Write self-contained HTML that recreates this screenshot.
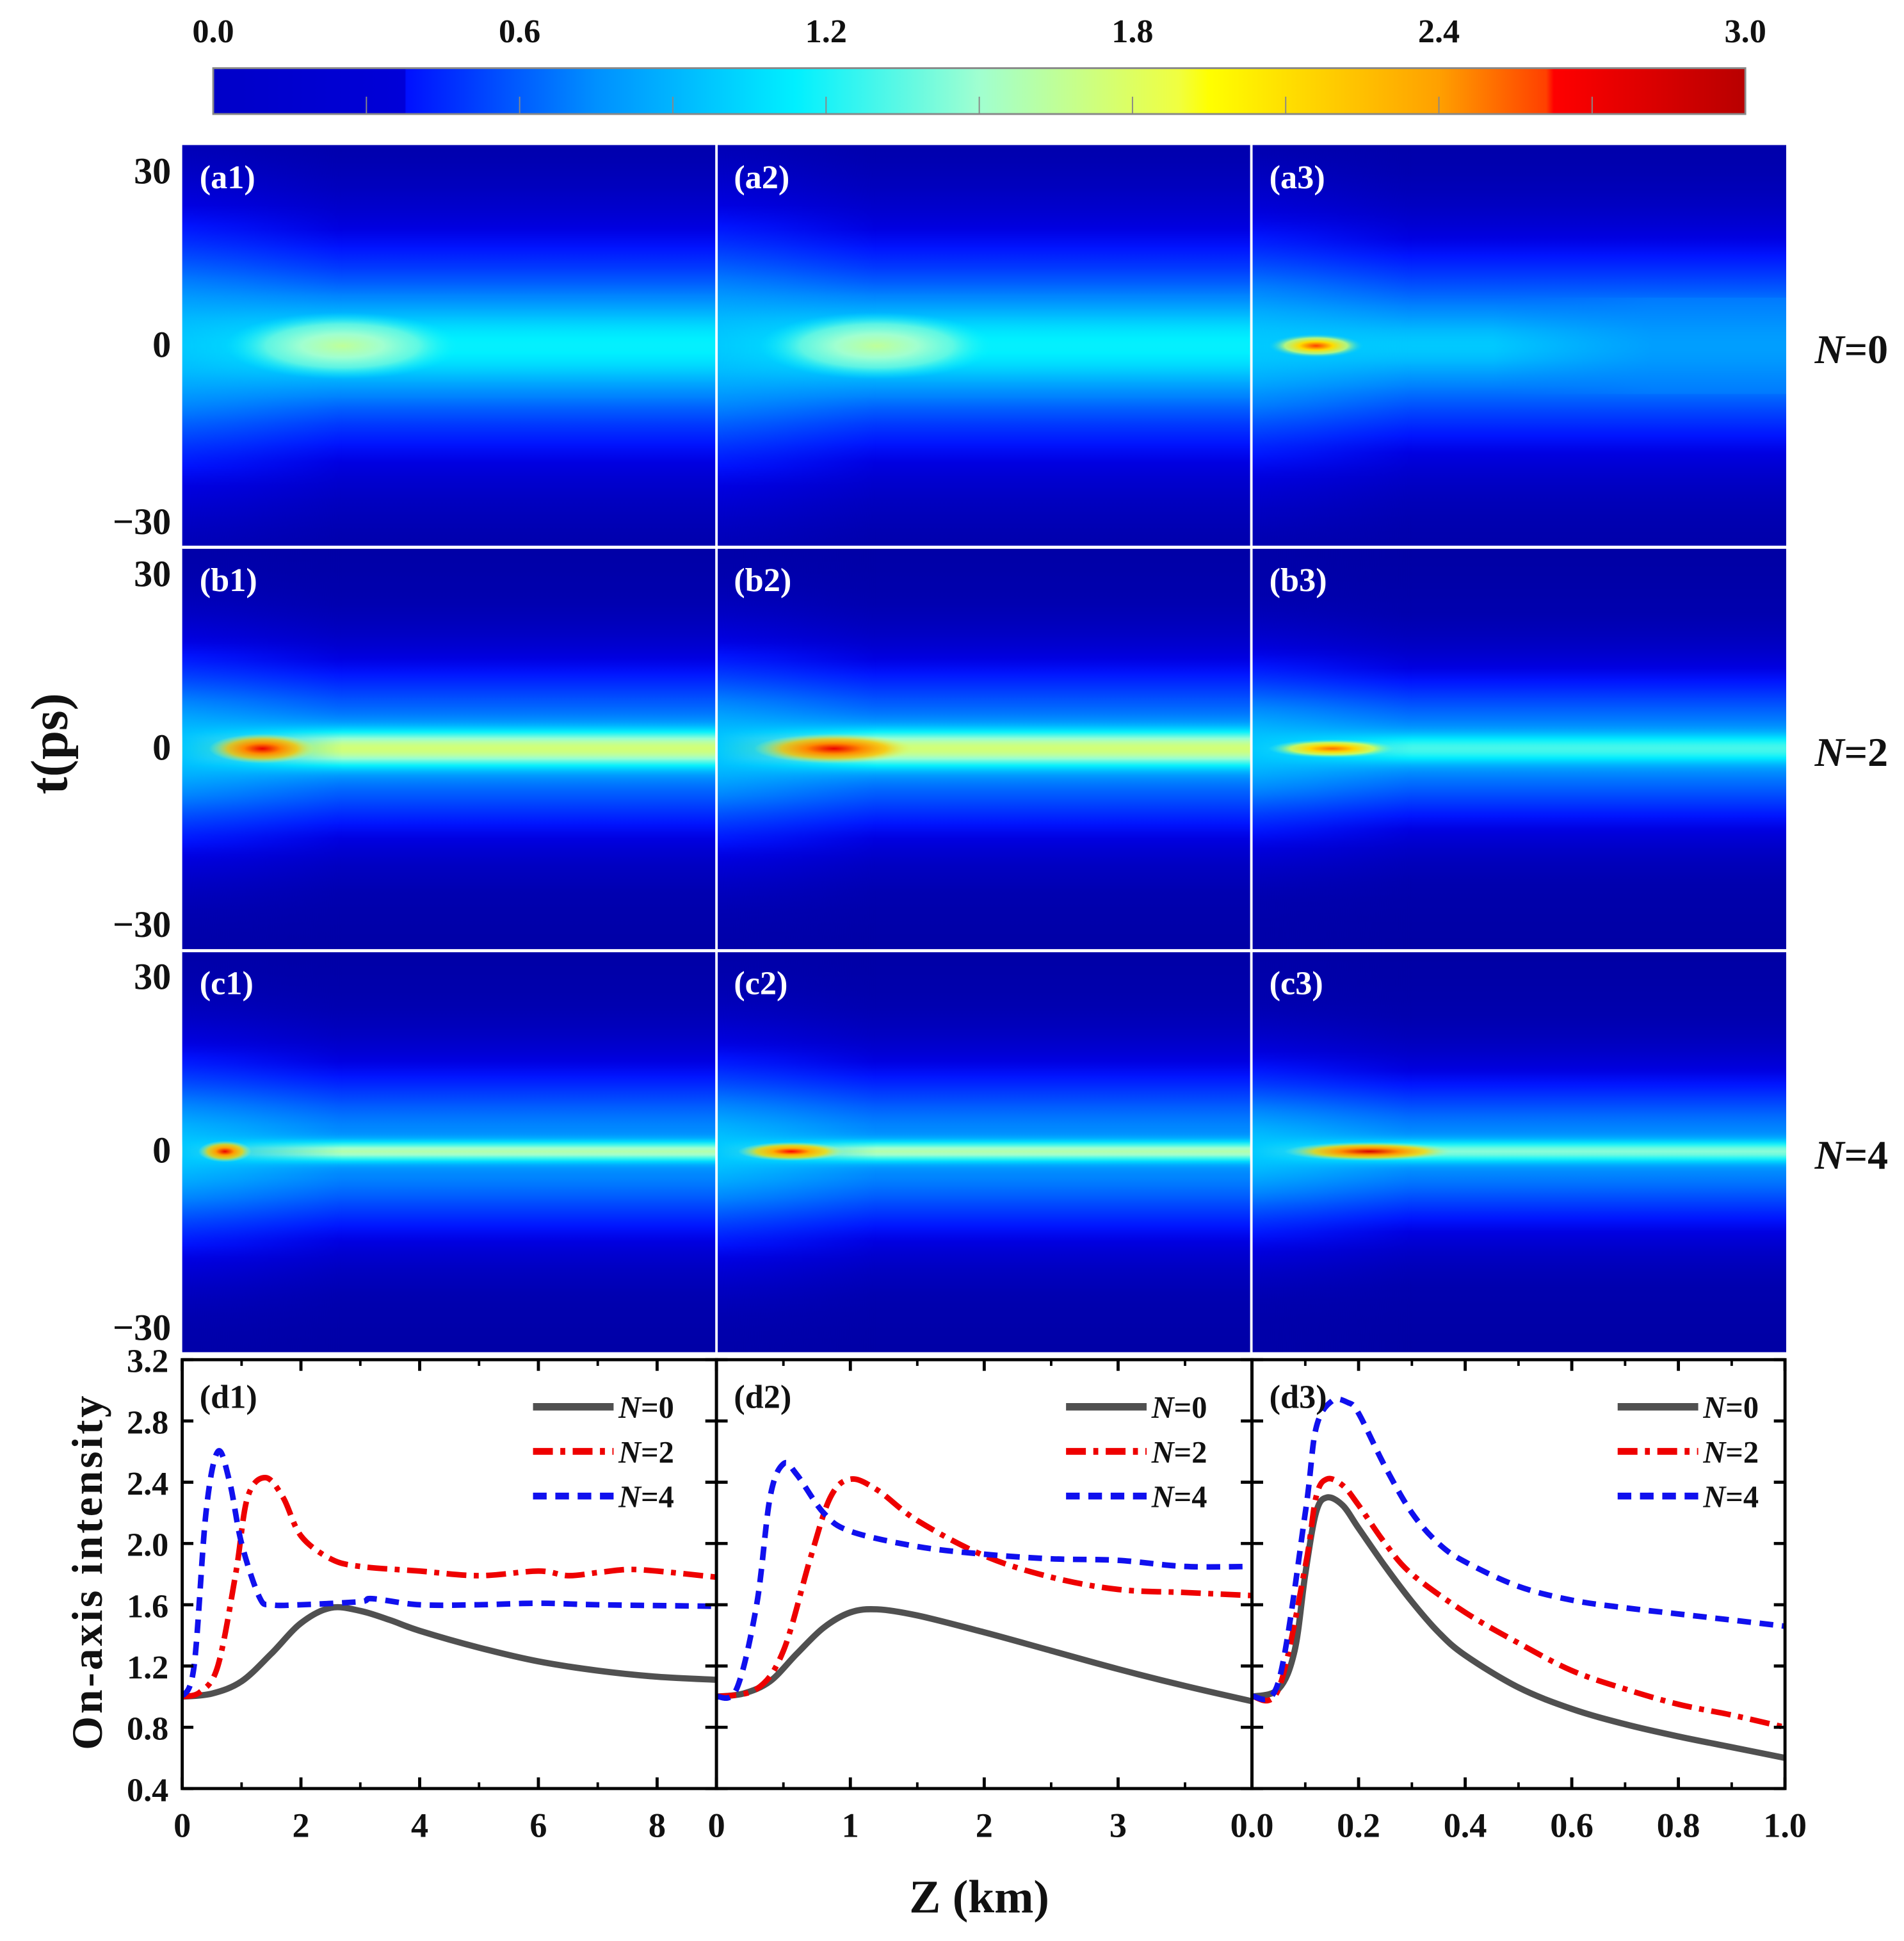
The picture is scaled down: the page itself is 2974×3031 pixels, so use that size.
<!DOCTYPE html>
<html><head><meta charset="utf-8">
<style>
html,body{margin:0;padding:0;background:#fff;}
svg{display:block;}
text{font-family:"Liberation Serif",serif;font-weight:bold;}
</style></head>
<body>
<svg id="fig" width="2974" height="3031" viewBox="0 0 1536 1566" preserveAspectRatio="none" xmlns="http://www.w3.org/2000/svg">
<defs id="defs">
<linearGradient id="cbar" x1="0" x2="1" y1="0" y2="0">
<stop offset="0" stop-color="#0000c8"/><stop offset="0.125" stop-color="#0000d8"/>
<stop offset="0.126" stop-color="#0010ff"/><stop offset="0.25" stop-color="#0090ff"/>
<stop offset="0.38" stop-color="#00f0ff"/><stop offset="0.5" stop-color="#a0ffd0"/>
<stop offset="0.63" stop-color="#f0ff40"/><stop offset="0.65" stop-color="#ffff00"/>
<stop offset="0.8" stop-color="#ffa000"/><stop offset="0.87" stop-color="#ff4000"/>
<stop offset="0.875" stop-color="#ff0000"/><stop offset="1" stop-color="#b80000"/>
</linearGradient>
</defs>
<g id="root"></g>
</svg>
<script>
// ---------- data ----------
const cbTicks = [0.0, 0.6, 1.2, 1.8, 2.4, 3.0];
const rowLabels = ['N=0','N=2','N=4'];
const panelLetters = ['a','b','c'];
// heatmap features per row/col: glow half-width (ps), core half-width (ps), core level
const glowHalf = [[13,13,12],[10,10,9],[10,10,9]];
const coreHalf = [[6,6,4.5],[2.6,2.6,2.2],[1.4,1.4,1.5]];
const coreLevel = [[1.15,1.15,1.0],[1.75,1.75,1.3],[1.6,1.6,1.45]];
// hotspots: [u (0..1), u half, t half (ps), level]
const hotU = [[0.3,0.3,0.12],[0.15,0.22,0.15],[0.08,0.14,0.22]];
const hotUHalf = [[0.22,0.22,0.09],[0.1,0.15,0.12],[0.05,0.1,0.16]];
const hotTHalf = [[5,5,1.8],[2.2,2.2,1.4],[1.6,1.4,1.4]];
const hotLevel = [[1.65,1.65,2.6],[2.75,2.75,2.5],[2.75,2.65,2.85]];

const d1x=[0,0.5,1,1.5,2,2.5,3,3.5,4,5,6,7,8,9];
const d1n0=[1.0,1.02,1.1,1.28,1.48,1.58,1.56,1.5,1.43,1.32,1.23,1.17,1.13,1.11];
const d1x2=[0,0.3,0.6,0.9,1.1,1.4,1.7,2.0,2.5,3,4,5,6,6.5,7,7.5,8,9];
const d1n2=[1.0,1.03,1.2,1.8,2.3,2.43,2.3,2.05,1.9,1.85,1.82,1.79,1.82,1.79,1.81,1.83,1.82,1.78];
const d1x4=[0,0.2,0.4,0.6,0.8,1.0,1.3,1.5,2,3,3.2,4,5,6,7,9];
const d1n4=[1.0,1.2,2.2,2.6,2.4,2.0,1.65,1.6,1.6,1.62,1.64,1.6,1.6,1.61,1.6,1.59];
const d2x=[0,0.2,0.4,0.6,0.8,1.0,1.2,1.5,2,2.5,3,3.5,4];
const d2n0=[1.0,1.02,1.1,1.28,1.45,1.55,1.57,1.53,1.42,1.3,1.18,1.07,0.97];
const d2x2=[0,0.3,0.5,0.7,0.85,1.0,1.2,1.5,2,2.5,3,3.5,4];
const d2n2=[1.0,1.05,1.3,1.9,2.3,2.42,2.35,2.15,1.92,1.78,1.7,1.68,1.66];
const d2x4=[0,0.15,0.3,0.4,0.5,0.6,0.8,1.0,1.5,2,2.5,3,3.5,4];
const d2n4=[1.0,1.05,1.6,2.3,2.52,2.45,2.2,2.08,1.98,1.93,1.9,1.89,1.85,1.85];
const d3x=[0,0.05,0.08,0.1,0.12,0.14,0.17,0.2,0.25,0.3,0.35,0.4,0.5,0.6,0.7,0.8,0.9,1.0];
const d3n0=[1.0,1.05,1.3,1.8,2.2,2.3,2.25,2.1,1.85,1.62,1.42,1.27,1.06,0.92,0.82,0.74,0.67,0.6];
const d3x2=[0,0.05,0.1,0.12,0.14,0.17,0.2,0.25,0.3,0.4,0.5,0.6,0.7,0.8,0.9,1.0];
const d3n2=[1.0,1.05,1.85,2.3,2.42,2.38,2.25,2.0,1.8,1.55,1.35,1.17,1.05,0.95,0.88,0.8];
const d3x4=[0,0.05,0.1,0.12,0.15,0.18,0.2,0.25,0.3,0.35,0.4,0.5,0.6,0.7,0.8,0.9,1.0];
const d3n4=[1.0,1.1,2.2,2.75,2.93,2.92,2.85,2.5,2.2,2.0,1.88,1.72,1.63,1.58,1.54,1.5,1.46];
const xMax=[9,4,1];
const xTicks=[[0,2,4,6,8],[0,1,2,3],[0,0.2,0.4,0.6,0.8,1.0]];
const xTickLabels=[['0','2','4','6','8'],['0','1','2','3'],['0.0','0.2','0.4','0.6','0.8','1.0']];
const yTicks=[0.4,0.8,1.2,1.6,2.0,2.4,2.8,3.2];

// ---------- helpers ----------
const NS='http://www.w3.org/2000/svg';
const root=document.getElementById('root');
const defs=document.getElementById('defs');
function mk(tag,attrs,parent){const e=document.createElementNS(NS,tag);for(const k in attrs)e.setAttribute(k,attrs[k]);(parent||root).appendChild(e);return e;}
function txt(s,attrs,parent){const e=mk('text',attrs,parent);e.textContent=s;return e;}
function jet(v){
  const st=[[0,[0,0,140]],[0.2,[0,0,175]],[0.37,[0,0,225]],[0.45,[0,20,255]],[0.75,[0,130,255]],[1.14,[0,240,255]],[1.5,[160,255,208]],[1.9,[240,255,64]],[1.95,[255,255,0]],[2.4,[255,160,0]],[2.6,[255,64,0]],[2.65,[255,0,0]],[3,[184,0,0]]];
  v=Math.max(0,Math.min(3,v));
  for(let i=1;i<st.length;i++){if(v<=st[i][0]){const a=st[i-1],b=st[i];const f=(v-a[0])/(b[0]-a[0]||1);const c=a[1].map((x,j)=>Math.round(x+(b[1][j]-x)*f));return `rgb(${c})`;}}
  return 'rgb(184,0,0)';
}

// ---------- colorbar ----------
const CB={x:172,y:55,w:1236,h:37};
const cbG=mk('g',{});


mk('rect',{x:CB.x,y:CB.y,width:CB.w,height:CB.h,fill:'url(#cbar)',stroke:'#888','stroke-width':1.5},cbG);
for(let i=1;i<10;i++){const x=CB.x+CB.w*i/10;mk('line',{x1:x,x2:x,y1:CB.y+23,y2:CB.y+CB.h,stroke:'#888','stroke-width':1},cbG);}
cbTicks.forEach(v=>{const t=txt(v.toFixed(1),{x:CB.x+CB.w*v/3,y:34,'font-size':27,'text-anchor':'middle',fill:'#111'},cbG);
 
 });

// ---------- heatmaps ----------
const colX=[147,578,1010], PW=431, rowY=[117,442,767], PH=324;
for(let r=0;r<3;r++)for(let c=0;c<3;c++){
  const x0=colX[c],y0=rowY[r];
  const cy=y0+PH/2, ps=PH/60;
  const id=''+r+c;
  const G=glowHalf[r][c], C=coreHalf[r][c], L=coreLevel[r][c];
  // vertical profile gradient (right part)
  const vg=mk('linearGradient',{id:'vg'+id,x1:0,x2:0,y1:0,y2:1},defs);
  for(let i=0;i<=120;i++){const t=30-i*0.5;
    const lv=0.12+0.2*Math.exp(-Math.pow(t/(G*2.2),2))+0.5*Math.exp(-Math.pow(t/(G*1.1),2))+(L-0.82)*Math.exp(-Math.pow(t/C,2));
    mk('stop',{offset:i/120,'stop-color':jet(lv)},vg);}
  // left region (z near 0): wide, medium profile
  const lg=mk('linearGradient',{id:'lg'+id,x1:0,x2:0,y1:0,y2:1},defs);
  for(let i=0;i<=60;i++){const t=30-i;
    const lv=0.15+0.6*Math.exp(-Math.pow(t/(G*1.6),2))+0.25*Math.exp(-Math.pow(t/(G*0.8),2));
    mk('stop',{offset:i/60,'stop-color':jet(lv)},lg);}
  const mg=mk('linearGradient',{id:'mg'+id,x1:0,x2:1,y1:0,y2:0},defs);
  mk('stop',{offset:0,'stop-color':'#fff','stop-opacity':1},mg);
  mk('stop',{offset:0.35,'stop-color':'#fff','stop-opacity':0.7},mg);
  mk('stop',{offset:1,'stop-color':'#fff','stop-opacity':0},mg);
  const mask=mk('mask',{id:'mk'+id,maskContentUnits:'userSpaceOnUse'},defs);
  mk('rect',{x:x0,y:y0,width:PW*0.3,height:PH,fill:'url(#mg'+id+')'},mask);
  // hotspot radial
  const H=hotLevel[r][c];
  const rg=mk('radialGradient',{id:'rg'+id,cx:0.5,cy:0.5,r:0.5},defs);
  [[0,H,1],[0.35,H-(H-L)*0.3,1],[0.65,(H+L)/2,0.8],[1,L,0]].forEach(s=>mk('stop',{offset:s[0],'stop-color':jet(s[1]),'stop-opacity':s[2]},rg));

  const g=mk('g',{});
  
  
  const cp=mk('clipPath',{id:'clip'+id},g);mk('rect',{x:x0,y:y0,width:PW,height:PH},cp);
  const inner=mk('g',{'clip-path':`url(#clip${id})`},g);
  mk('rect',{x:x0,y:y0,width:PW,height:PH,fill:'url(#vg'+id+')'},inner);
  mk('rect',{x:x0,y:y0,width:PW*0.3,height:PH,fill:'url(#lg'+id+')',mask:'url(#mk'+id+')'},inner);
  if(r===0&&c===2){ // core fades to right
    const fg=mk('linearGradient',{id:'fg'+id,x1:0,x2:1,y1:0,y2:0},defs);
    mk('stop',{offset:0,'stop-color':jet(0.7),'stop-opacity':0},fg);
    mk('stop',{offset:0.45,'stop-color':jet(0.7),'stop-opacity':0},fg);
    mk('stop',{offset:0.75,'stop-color':jet(0.75),'stop-opacity':0.6},fg);
    mk('stop',{offset:1,'stop-color':jet(0.75),'stop-opacity':0.6},fg);
    mk('rect',{x:x0,y:cy-C*1.6*ps,width:PW,height:C*3.2*ps,fill:'url(#fg'+id+')'},inner);
  }
  mk('ellipse',{cx:x0+hotU[r][c]*PW,cy:cy,rx:hotUHalf[r][c]*PW,ry:hotTHalf[r][c]*ps,fill:'url(#rg'+id+')'},inner);
  const lab=txt('('+panelLetters[r]+(c+1)+')',{x:x0+14,y:y0+35,'font-size':27,fill:'#fff'},g);
  
  
}
// white separators
const sep=mk('g',{});


[578,1009.5].forEach(x=>mk('line',{x1:x,x2:x,y1:117,y2:1092,stroke:'#fff','stroke-width':2},sep));
[441.5,767].forEach(y=>mk('line',{x1:147,x2:1441,y1:y,y2:y,stroke:'#fff','stroke-width':2.5},sep));
// heatmap y ticks and labels
for(let r=0;r<3;r++){
  const y0=rowY[r];
  [['30',y0+20],['0',y0+160],['\u221230',y0+303]].forEach(([s,y])=>{
    const t=txt(s,{x:138,y:y+11,'font-size':30,'text-anchor':'end',fill:'#111'});
    
    
  });
  const n=txt(rowLabels[r].slice(1),{x:1464,y:y0+176,'font-size':33,fill:'#111'});
  
  
  const ts=mk('tspan',{'font-style':'italic'});ts.textContent='N';n.insertBefore(ts,n.firstChild);
}
const tl=txt('t(ps)',{x:0,y:0,'font-size':42,'text-anchor':'middle',fill:'#111',transform:'translate(54,600) rotate(-90)'});



// ---------- line plots ----------
const PY0=1097, PY1=1443;
const yv=v=>PY0+(3.2-v)/(3.2-0.4)*(PY1-PY0);
const pX=[147,578,1010], pW=[431,432,430];
const series=[
 [[d1x,d1n0],[d1x2,d1n2],[d1x4,d1n4]],
 [[d2x,d2n0],[d2x2,d2n2],[d2x4,d2n4]],
 [[d3x,d3n0],[d3x2,d3n2],[d3x4,d3n4]]];
const styles=[{stroke:'#505050',w:5,dash:''},{stroke:'#ee0000',w:4.5,dash:'16 6 4 6'},{stroke:'#1010ee',w:4.5,dash:'11 7'}];
const names=['N=0','N=2','N=4'];
function smoothPath(pts){let d=`M${pts[0][0]},${pts[0][1]}`;for(let i=0;i<pts.length-1;i++){const p0=pts[i-1]||pts[i],p1=pts[i],p2=pts[i+1],p3=pts[i+2]||p2;const c1=[p1[0]+(p2[0]-p0[0])/6,p1[1]+(p2[1]-p0[1])/6],c2=[p2[0]-(p3[0]-p1[0])/6,p2[1]-(p3[1]-p1[1])/6];d+=` C${c1},${c2},${p2}`;}return d;}
for(let k=0;k<3;k++){
  const x0=pX[k],w=pW[k];
  const xs=v=>x0+v/xMax[k]*w;
  const g=mk('g',{});
  
  
  const cid='lc'+k;const cp=mk('clipPath',{id:cid},g);mk('rect',{x:x0,y:PY0,width:w,height:PY1-PY0},cp);
  const lg=mk('g',{'clip-path':`url(#${cid})`},g);
  series[k].forEach((s,i)=>{
    const pts=s[0].map((xv,j)=>[xs(xv),yv(s[1][j])]);
    const p=mk('path',{d:smoothPath(pts),fill:'none',stroke:styles[i].stroke,'stroke-width':styles[i].w,'stroke-dasharray':styles[i].dash,'stroke-linejoin':'round'},lg);
    
    
  });
  xTicks[k].forEach((t,i)=>{const x=xs(t);mk('line',{x1:x,x2:x,y1:PY0,y2:PY0+9,stroke:'#000','stroke-width':2.5},g);
    mk('line',{x1:x,x2:x,y1:PY1,y2:PY1-9,stroke:'#000','stroke-width':2.5},g);
    const half=(xTicks[k][1]-xTicks[k][0])/2;const xm=xs(t+half);
    if(t+half<xMax[k]){mk('line',{x1:xm,x2:xm,y1:PY0,y2:PY0+5,stroke:'#000','stroke-width':2},g);mk('line',{x1:xm,x2:xm,y1:PY1,y2:PY1-5,stroke:'#000','stroke-width':2},g);}
    const lb=txt(xTickLabels[k][i],{x:x,y:1482,'font-size':28,'text-anchor':'middle',fill:'#111'},g);
    
    
  });
  yTicks.forEach(t=>{const y=yv(t);mk('line',{x1:x0,x2:x0+9,y1:y,y2:y,stroke:'#000','stroke-width':2.5},g);mk('line',{x1:x0+w,x2:x0+w-9,y1:y,y2:y,stroke:'#000','stroke-width':2.5},g);});
  mk('rect',{x:x0,y:PY0,width:w,height:PY1-PY0,fill:'none',stroke:'#000','stroke-width':2.5},g);
  const pl=txt('(d'+(k+1)+')',{x:x0+14,y:1136,'font-size':27,fill:'#111'},g);
  
  
  const lx=[430,860,1305][k];
  const leg=mk('g',{},g);
  
  
  names.forEach((n,i)=>{const ly=1135+i*36;
    const le=mk('g',{},leg);
    
    
    mk('line',{x1:lx,x2:lx+65,y1:ly,y2:ly,stroke:styles[i].stroke,'stroke-width':styles[i].w+1,'stroke-dasharray':styles[i].dash},le);
    const t=txt('',{x:lx+69,y:ly+9,'font-size':25,fill:'#111'},le);
    const ts=mk('tspan',{'font-style':'italic'},t);ts.textContent='N';
    const ts2=mk('tspan',{},t);ts2.textContent=n.slice(1);
  });
}
yTicks.forEach(t=>{const lb=txt(t.toFixed(1),{x:136,y:yv(t)+10,'font-size':27,'text-anchor':'end',fill:'#111'});
 
 });
const yl=txt('On-axis  intensity',{x:0,y:0,'font-size':35,'text-anchor':'middle',fill:'#111','letter-spacing':2,transform:'translate(82,1268) rotate(-90)'});


const xl=txt('Z (km)',{x:790,y:1543,'font-size':38,'text-anchor':'middle',fill:'#111'});


</script>
</body></html>
